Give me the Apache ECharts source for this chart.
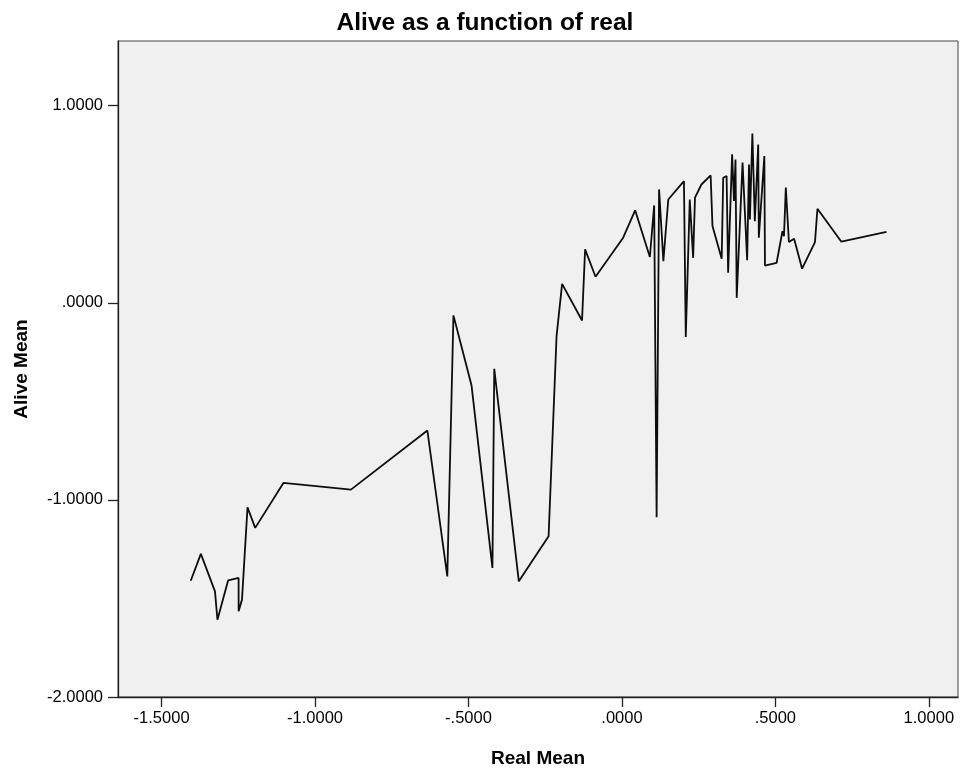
<!DOCTYPE html>
<html>
<head>
<meta charset="utf-8">
<script src="https://cdn.jsdelivr.net/npm/echarts@6/dist/echarts.min.js"></script>
<style>html,body{margin:0;padding:0;background:#fff;}#c{width:970px;height:775px;}</style>
</head>
<body>
<div id="c"></div>
<script>
const realMean = [-1.405, -1.372, -1.326, -1.318, -1.283, -1.249, -1.249, -1.238, -1.220, -1.195,
  -1.103, -0.883, -0.634, -0.569, -0.549, -0.490, -0.422, -0.416, -0.336, -0.239,
  -0.213, -0.195, -0.130, -0.120, -0.086, 0.004, 0.043, 0.091, 0.105, 0.113,
  0.121, 0.135, 0.151, 0.202, 0.208, 0.221, 0.232, 0.238, 0.259, 0.289,
  0.295, 0.325, 0.330, 0.341, 0.346, 0.359, 0.365, 0.370, 0.374, 0.393,
  0.408, 0.414, 0.417, 0.425, 0.433, 0.444, 0.446, 0.464, 0.466, 0.504,
  0.523, 0.528, 0.534, 0.544, 0.561, 0.587, 0.629, 0.637, 0.715, 0.862];
const aliveMean = [-1.41, -1.274, -1.464, -1.608, -1.408, -1.396, -1.565, -1.506, -1.038, -1.142,
  -0.914, -0.948, -0.648, -1.388, -0.064, -0.420, -1.345, -0.335, -1.413, -1.185,
  -0.169, 0.096, -0.090, 0.271, 0.132, 0.330, 0.469, 0.232, 0.494, -1.088,
  0.575, 0.211, 0.524, 0.617, -0.173, 0.524, 0.228, 0.533, 0.600, 0.646,
  0.389, 0.223, 0.634, 0.643, 0.152, 0.753, 0.516, 0.727, 0.025, 0.711,
  0.216, 0.702, 0.423, 0.859, 0.414, 0.803, 0.330, 0.744, 0.189, 0.203,
  0.363, 0.338, 0.584, 0.308, 0.325, 0.173, 0.308, 0.477, 0.310, 0.360];
const xTicks = [-1.5, -1.0, -0.5, 0.0, 0.5, 1.0];
const yTicks = [-2.0, -1.0, 0.0, 1.0];

function spss(v) {
  let s = Math.abs(v).toFixed(4);
  if (s.startsWith('0')) s = s.slice(1);
  return (v < -1e-9 ? '-' : '') + s;
}

const chart = echarts.init(document.getElementById('c'), null, {renderer: 'canvas'});
const FONT = '"Liberation Sans", Arial, sans-serif';
chart.setOption({
  animation: false,
  backgroundColor: '#ffffff',
  title: {
    text: 'Alive as a function of real',
    left: 'center', top: 6,
    textStyle: {fontFamily: FONT, fontSize: 24.5, fontWeight: 'bold', color: '#000'}
  },
  grid: {
    left: 118, right: 12, top: 41, bottom: 78,
    outerBoundsMode: 'none', containLabel: false,
    show: true, backgroundColor: '#f0f0f0', borderColor: '#444', borderWidth: 1
  },
  xAxis: {
    type: 'value', min: -1.642, max: 1.095,
    name: 'Real Mean', nameLocation: 'middle', nameGap: 52,
    nameTextStyle: {fontFamily: FONT, fontSize: 19, fontWeight: 'bold', color: '#000'},
    axisLine: {show: true, onZero: false, lineStyle: {color: '#222', width: 1.3}},
    axisTick: {show: true, length: 10, customValues: xTicks, lineStyle: {color: '#222', width: 1.3}},
    axisLabel: {customValues: xTicks, formatter: spss, margin: 13,
      fontFamily: FONT, fontSize: 16.5, color: '#000'},
    splitLine: {show: false}
  },
  yAxis: {
    type: 'value', min: -2.0, max: 1.328,
    name: 'Alive Mean', nameLocation: 'middle', nameGap: 87, nameRotate: 90,
    nameTextStyle: {fontFamily: FONT, fontSize: 19, fontWeight: 'bold', color: '#000'},
    axisLine: {show: true, onZero: false, lineStyle: {color: '#222', width: 1.3}},
    axisTick: {show: true, length: 10, customValues: yTicks, lineStyle: {color: '#222', width: 1.3}},
    axisLabel: {customValues: yTicks, formatter: spss, margin: 15,
      fontFamily: FONT, fontSize: 16.5, color: '#000'},
    splitLine: {show: false}
  },
  series: [{
    type: 'line',
    data: realMean.map((x, i) => [x, aliveMean[i]]),
    showSymbol: false,
    symbol: 'none',
    lineStyle: {color: '#0d0d0d', width: 1.8},
    silent: true
  }]
});
</script>
</body>
</html>
